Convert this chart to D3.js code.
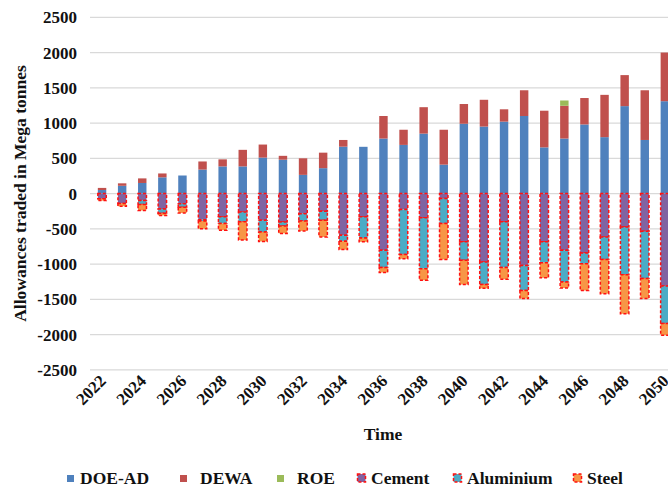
<!DOCTYPE html>
<html><head><meta charset="utf-8">
<script src="https://cdn.jsdelivr.net/npm/d3@7"></script>
<style>
html,body{margin:0;padding:0;background:#fff;}
svg{display:block;font-family:"Liberation Serif","Times New Roman",serif;font-weight:bold;}
</style></head>
<body>
<svg id="chart" width="668" height="487"></svg>
<script>
const years = d3.range(2022, 2051);
const yTicks = [-2500,-2000,-1500,-1000,-500,0,500,1000,1500,2000,2500];
const xTickYears = d3.range(2022, 2051, 2);
const seriesNames = ["DOE-AD","DEWA","ROE","Cement","Aluminium","Steel"];
const doeAD = [50,110,150,230,256,340,385,385,510,480,265,360,665,663,780,690,850,410,990,950,1020,1100,655,780,980,800,1240,760,1310];
const dewa = [30,35,65,55,0,115,100,235,185,55,235,220,95,0,320,215,375,495,280,380,175,365,520,465,375,600,440,705,690];
const roe = [0,0,0,0,0,0,0,0,0,0,0,0,0,0,0,0,0,0,0,0,0,0,0,75,0,0,0,0,0];
const cement = [-75,-140,-100,-220,-145,-370,-330,-260,-380,-405,-285,-250,-590,-330,-805,-225,-345,-70,-685,-970,-400,-1020,-685,-805,-845,-615,-475,-535,-1310];
const aluminium = [0,0,-55,-60,-50,-20,-95,-140,-165,-55,-105,-130,-85,-300,-245,-640,-720,-355,-260,-320,-650,-355,-295,-450,-150,-320,-675,-670,-535];
const steel = [-25,-40,-85,-30,-80,-110,-95,-260,-135,-105,-140,-235,-120,-55,-70,-60,-165,-510,-345,-55,-165,-115,-215,-85,-380,-485,-555,-285,-165];
const colors = ["#4F81BD","#C0504D","#9BBB59","#8064A2","#4BACC6","#F79646"];
const dashed = [false,false,false,true,true,true];

const seriesValues = [doeAD, dewa, roe, cement, aluminium, steel];
const table = years.map((yr, i) => {
  const row = {year: yr};
  seriesNames.forEach((n, k) => row[n] = seriesValues[k][i]);
  return row;
});

const svg = d3.select("#chart");
const step = 20.1;
const x = d3.scaleBand().domain(years).range([92, 92 + years.length * step]).paddingInner(0.58).paddingOuter(0.29);
const y = d3.scaleLinear().domain([-2500, 2500]).range([369.8, 17.3]);

// gridlines
svg.append("g").selectAll("line").data(yTicks).join("line")
  .attr("x1", 90).attr("x2", 668)
  .attr("y1", d => y(d)).attr("y2", d => y(d))
  .attr("stroke", "#d9d9d9").attr("stroke-width", 1.2);

// y axis labels
const yAxis = d3.axisLeft(y).tickValues(yTicks).tickFormat(d => String(d)).tickSize(0).tickPadding(0);
const gy = svg.append("g").attr("transform", "translate(77,0)").call(yAxis);
gy.select(".domain").remove();
gy.attr("font-family", null).attr("font-size", null);
gy.selectAll("text").attr("font-family", "Liberation Serif").attr("font-weight", "bold")
  .attr("font-size", 17).attr("fill", "#111");

// stacked bars
const stack = d3.stack().keys(seriesNames).offset(d3.stackOffsetDiverging);
const stacked = stack(table);
stacked.forEach((layer, k) => {
  const g = svg.append("g");
  g.selectAll("rect").data(layer).join("rect")
    .attr("x", d => x(d.data.year))
    .attr("width", x.bandwidth())
    .attr("y", d => y(Math.max(d[0], d[1])))
    .attr("height", d => Math.abs(y(d[0]) - y(d[1])))
    .attr("fill", colors[k])
    .attr("stroke", dashed[k] ? "#FF1010" : "none")
    .attr("stroke-width", dashed[k] ? 1.5 : 0)
    .attr("stroke-dasharray", dashed[k] ? "3,2" : null);
});

// x axis labels
const xAxis = d3.axisBottom(x).tickValues(xTickYears).tickSize(0).tickPadding(0);
const gx = svg.append("g").attr("transform", "translate(0,382)").call(xAxis);
gx.select(".domain").remove();
gx.attr("font-family", null).attr("font-size", null);
gx.selectAll("text")
  .attr("font-family", "Liberation Serif").attr("font-weight", "bold")
  .attr("font-size", 17).attr("fill", "#111")
  .attr("text-anchor", "end").attr("dy", 0)
  .attr("transform", "translate(5,0) rotate(-45)");

// axis titles
svg.append("text").attr("x", 383).attr("y", 440).attr("text-anchor", "middle")
  .attr("font-size", 17.5).attr("fill", "#111").text("Time");
svg.append("text").attr("transform", "translate(26,193.5) rotate(-90)").attr("text-anchor", "middle")
  .attr("font-size", 17.5).attr("fill", "#111").text("Allowances traded in Mega tonnes");

// legend
const legendX = [67, 180, 277, 357, 453, 573];
const lg = svg.append("g");
seriesNames.forEach((n, k) => {
  const g = lg.append("g").attr("transform", `translate(${legendX[k]},0)`);
  if (dashed[k]) {
    g.append("rect").attr("x", 0.5).attr("y", 474).attr("width", 8).attr("height", 8)
      .attr("fill", colors[k]).attr("stroke", "#FF1010").attr("stroke-width", 1.5).attr("stroke-dasharray", "3,2");
  } else {
    g.append("rect").attr("x", 0).attr("y", 475).attr("width", 7).attr("height", 7).attr("fill", colors[k]);
  }
  g.append("text").attr("x", dashed[k] ? 14 : (k === 0 ? 13 : 20)).attr("y", 484)
    .attr("font-size", 17.5).attr("fill", "#111").text(n);
});
</script>
</body></html>
